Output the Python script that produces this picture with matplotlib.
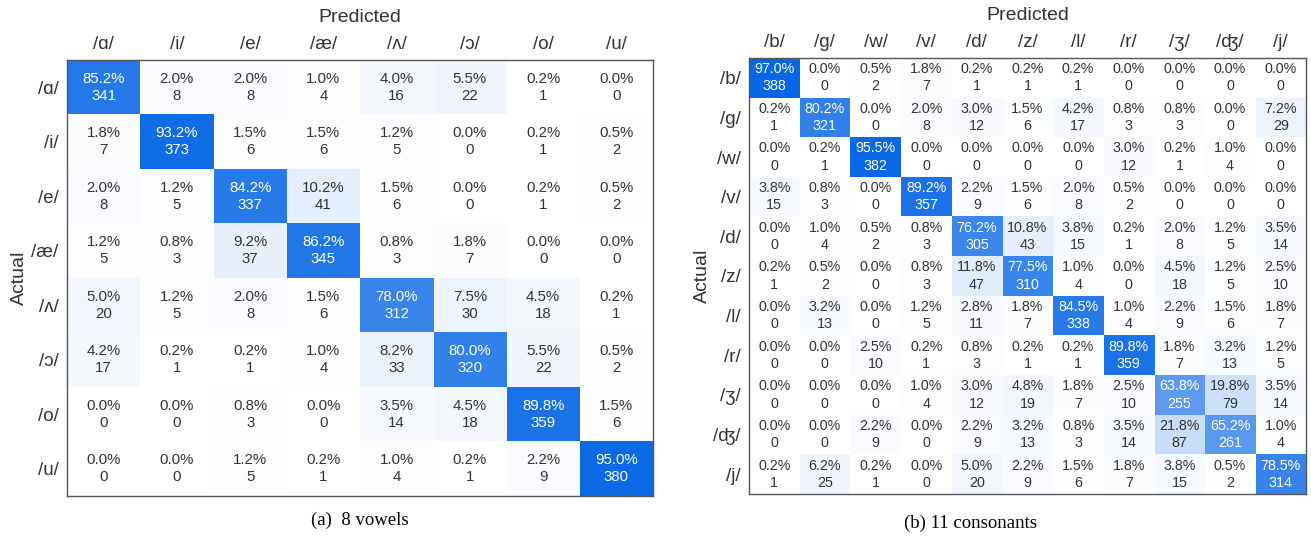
import numpy as np
import matplotlib
matplotlib.use("Agg")
import matplotlib.pyplot as plt
from matplotlib.colors import LinearSegmentedColormap

plt.rcParams['font.family'] = ['Liberation Sans', 'DejaVu Sans']

# ---- data ----
vowel_labels = ["/ɑ/", "/i/", "/e/", "/æ/", "/ʌ/", "/ɔ/", "/o/", "/u/"]
vowel_counts = [
    [341, 8, 8, 4, 16, 22, 1, 0],
    [7, 373, 6, 6, 5, 0, 1, 2],
    [8, 5, 337, 41, 6, 0, 1, 2],
    [5, 3, 37, 345, 3, 7, 0, 0],
    [20, 5, 8, 6, 312, 30, 18, 1],
    [17, 1, 1, 4, 33, 320, 22, 2],
    [0, 0, 3, 0, 14, 18, 359, 6],
    [0, 0, 5, 1, 4, 1, 9, 380],
]
vowel_pct = [
    [85.2, 2.0, 2.0, 1.0, 4.0, 5.5, 0.2, 0.0],
    [1.8, 93.2, 1.5, 1.5, 1.2, 0.0, 0.2, 0.5],
    [2.0, 1.2, 84.2, 10.2, 1.5, 0.0, 0.2, 0.5],
    [1.2, 0.8, 9.2, 86.2, 0.8, 1.8, 0.0, 0.0],
    [5.0, 1.2, 2.0, 1.5, 78.0, 7.5, 4.5, 0.2],
    [4.2, 0.2, 0.2, 1.0, 8.2, 80.0, 5.5, 0.5],
    [0.0, 0.0, 0.8, 0.0, 3.5, 4.5, 89.8, 1.5],
    [0.0, 0.0, 1.2, 0.2, 1.0, 0.2, 2.2, 95.0],
]

cons_labels = ["/b/", "/g/", "/w/", "/v/", "/d/", "/z/", "/l/", "/r/",
               "/ʒ/", "/ʤ/", "/j/"]
cons_counts = [
    [388, 0, 2, 7, 1, 1, 1, 0, 0, 0, 0],
    [1, 321, 0, 8, 12, 6, 17, 3, 3, 0, 29],
    [0, 1, 382, 0, 0, 0, 0, 12, 1, 4, 0],
    [15, 3, 0, 357, 9, 6, 8, 2, 0, 0, 0],
    [0, 4, 2, 3, 305, 43, 15, 1, 8, 5, 14],
    [1, 2, 0, 3, 47, 310, 4, 0, 18, 5, 10],
    [0, 13, 0, 5, 11, 7, 338, 4, 9, 6, 7],
    [0, 0, 10, 1, 3, 1, 1, 359, 7, 13, 5],
    [0, 0, 0, 4, 12, 19, 7, 10, 255, 79, 14],
    [0, 0, 9, 0, 9, 13, 3, 14, 87, 261, 4],
    [1, 25, 1, 0, 20, 9, 6, 7, 15, 2, 314],
]
cons_pct = [
    [97.0, 0.0, 0.5, 1.8, 0.2, 0.2, 0.2, 0.0, 0.0, 0.0, 0.0],
    [0.2, 80.2, 0.0, 2.0, 3.0, 1.5, 4.2, 0.8, 0.8, 0.0, 7.2],
    [0.0, 0.2, 95.5, 0.0, 0.0, 0.0, 0.0, 3.0, 0.2, 1.0, 0.0],
    [3.8, 0.8, 0.0, 89.2, 2.2, 1.5, 2.0, 0.5, 0.0, 0.0, 0.0],
    [0.0, 1.0, 0.5, 0.8, 76.2, 10.8, 3.8, 0.2, 2.0, 1.2, 3.5],
    [0.2, 0.5, 0.0, 0.8, 11.8, 77.5, 1.0, 0.0, 4.5, 1.2, 2.5],
    [0.0, 3.2, 0.0, 1.2, 2.8, 1.8, 84.5, 1.0, 2.2, 1.5, 1.8],
    [0.0, 0.0, 2.5, 0.2, 0.8, 0.2, 0.2, 89.8, 1.8, 3.2, 1.2],
    [0.0, 0.0, 0.0, 1.0, 3.0, 4.8, 1.8, 2.5, 63.8, 19.8, 3.5],
    [0.0, 0.0, 2.2, 0.0, 2.2, 3.2, 0.8, 3.5, 21.8, 65.2, 1.0],
    [0.2, 6.2, 0.2, 0.0, 5.0, 2.2, 1.5, 1.8, 3.8, 0.5, 78.5],
]

cmap = LinearSegmentedColormap.from_list("cm_blue", ["#ffffff", "#0062e4"])


def draw_cm(ax, pct, counts, labels, fs_cell, ylab_x):
    pct = np.array(pct)
    n = len(labels)
    ax.imshow(pct / 100.0, cmap=cmap, vmin=0, vmax=1, aspect="auto")
    for i in range(n):
        for j in range(n):
            c = "white" if pct[i, j] > 50 else "#333333"
            ax.text(j, i, f"{pct[i, j]:.1f}%\n{counts[i][j]}", ha="center",
                    va="center", fontsize=fs_cell, color=c, linespacing=1.3)
    ax.set_xticks(range(n))
    ax.set_yticks(range(n))
    ax.set_xticklabels(labels, fontsize=13.5, color="#333333")
    ax.set_yticklabels(labels, fontsize=13.5, color="#333333")
    ax.xaxis.tick_top()
    ax.tick_params(axis="x", length=0, pad=5)
    ax.tick_params(axis="y", length=0, pad=6)
    for s in ax.spines.values():
        s.set_color("#555555")
        s.set_linewidth(1.0)
    ax.set_xlabel("Predicted", fontsize=14, color="#333333", labelpad=10)
    ax.xaxis.set_label_position("top")
    ax.set_ylabel("Actual", fontsize=14, color="#333333")
    ax.yaxis.set_label_coords(ylab_x, 0.5)


fig = plt.figure(figsize=(13.11, 5.38), dpi=100)
ax1 = fig.add_axes([0.0511, 0.0781, 0.447, 0.8104])
ax2 = fig.add_axes([0.5713, 0.0818, 0.4249, 0.8104])

draw_cm(ax1, vowel_pct, vowel_counts, vowel_labels, 10.8, -0.066)
draw_cm(ax2, cons_pct, cons_counts, cons_labels, 10.3, -0.068)

fig.text(0.2746, 0.033, "(a)  8 vowels", ha="center", va="center",
         fontsize=13.5, family="Liberation Serif")
fig.text(0.740, 0.028, "(b) 11 consonants", ha="center", va="center",
         fontsize=13.5, family="Liberation Serif")

fig.savefig("out.png", dpi=100)
